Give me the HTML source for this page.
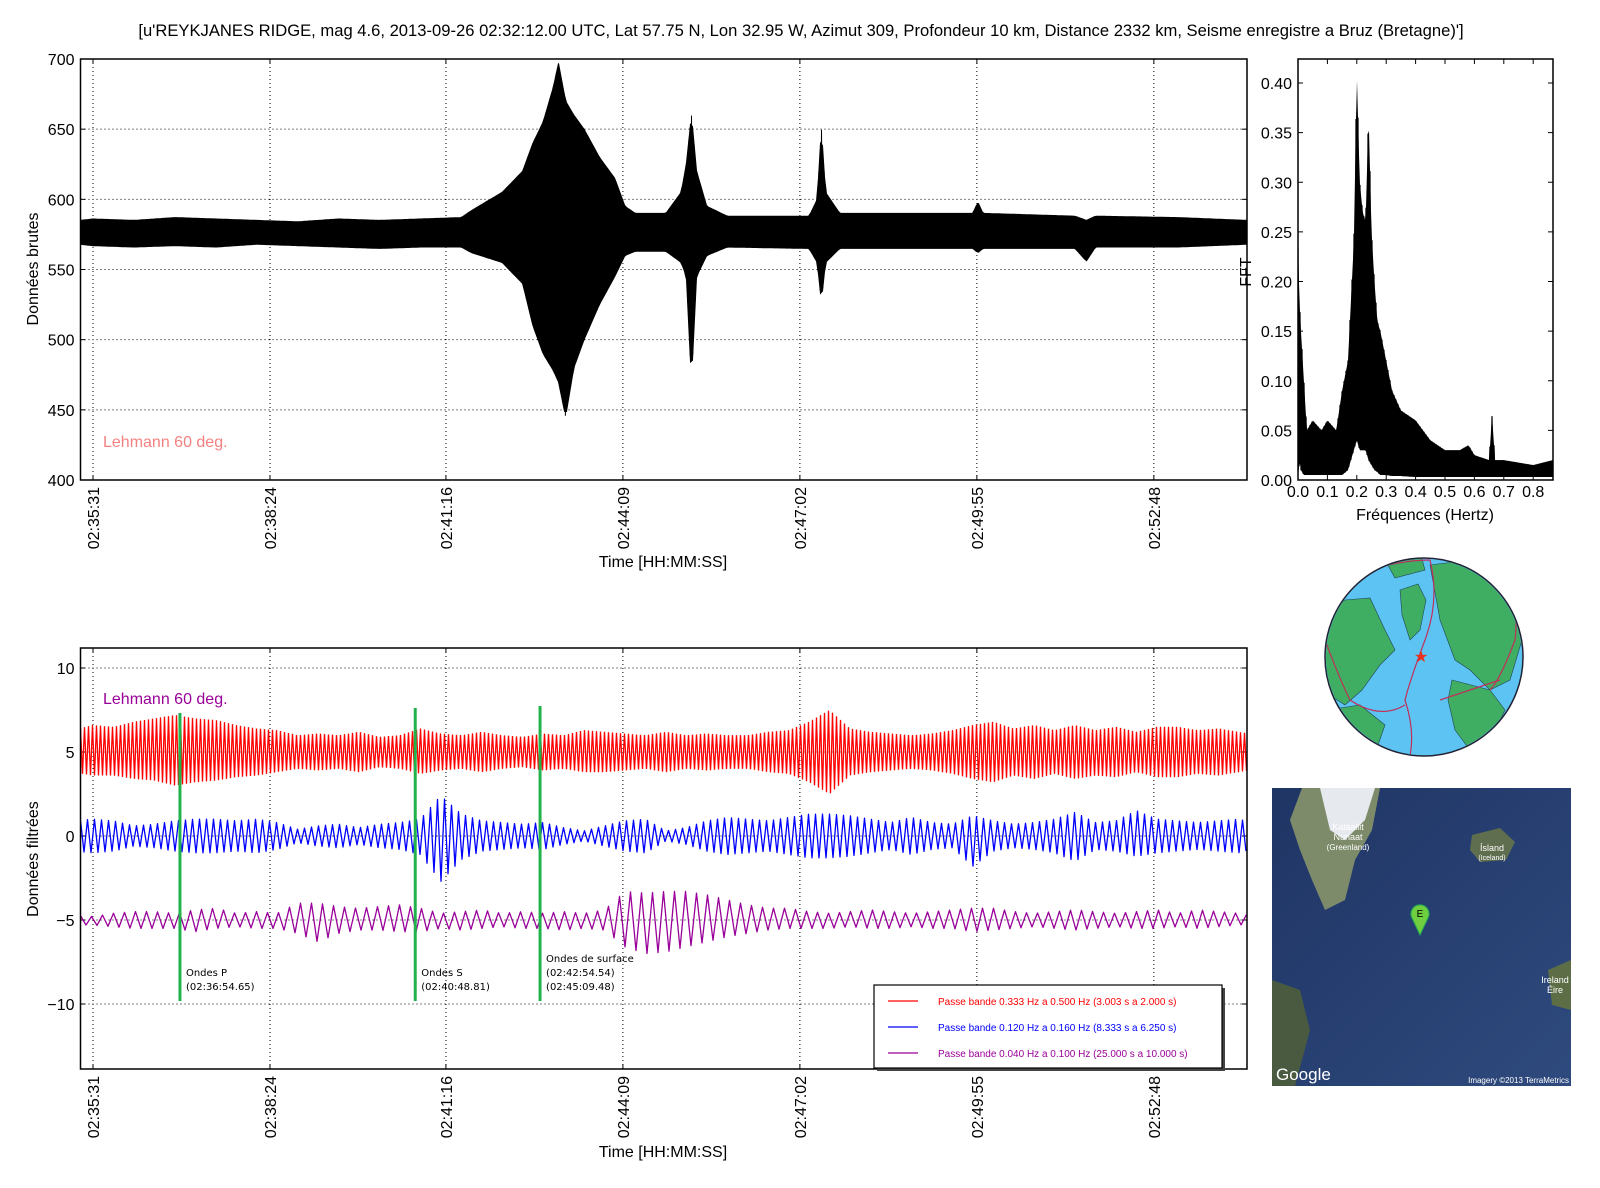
<!DOCTYPE html>
<html><head><meta charset="utf-8"><style>
html,body{margin:0;padding:0;background:#fff;}
svg{display:block;font-family:"Liberation Sans",sans-serif;}
</style></head><body>
<svg id="fig" width="1600" height="1188" viewBox="0 0 1600 1188" xmlns="http://www.w3.org/2000/svg">
<text x="801" y="36" font-size="16.6" text-anchor="middle">[u'REYKJANES RIDGE, mag 4.6, 2013-09-26 02:32:12.00 UTC, Lat 57.75 N, Lon 32.95 W, Azimut 309, Profondeur 10 km, Distance 2332 km, Seisme enregistre a Bruz (Bretagne)']</text>
<g id="top"></g>
<g id="fft"></g>
<g id="bot"></g>

<g>
<circle cx="1424" cy="657" r="99" fill="#5cc3f2" stroke="#223" stroke-width="1.5"/>
<clipPath id="gc"><circle cx="1424" cy="657" r="98"/></clipPath>
<g clip-path="url(#gc)" fill="#3fae63" stroke="#245" stroke-width="0.6">
<path d="M1318 620 L1345 600 L1370 598 L1385 630 L1395 650 L1380 665 L1362 690 L1345 705 L1322 690 L1318 660 Z"/>
<path d="M1400 590 L1418 584 L1426 600 L1420 630 L1410 640 L1402 615 Z"/>
<path d="M1430 565 L1470 560 L1510 590 L1522 640 L1510 680 L1490 690 L1470 670 L1455 660 L1440 620 Z"/>
<path d="M1452 680 L1490 690 L1505 710 L1490 740 L1470 750 L1455 730 L1448 700 Z"/>
<path d="M1340 708 L1360 705 L1385 725 L1378 745 L1355 760 L1335 745 Z"/>
<path d="M1385 560 L1420 552 L1425 570 L1395 578 Z"/>
</g>
<g clip-path="url(#gc)" fill="none" stroke="#c0305a" stroke-width="1.2">
<path d="M1330 590 Q1380 560 1430 560 Q1440 600 1425 640 Q1410 680 1405 700 Q1415 730 1410 756"/>
<path d="M1325 640 Q1340 680 1350 700 Q1380 720 1405 705"/>
<path d="M1440 560 Q1470 555 1500 565 Q1520 600 1515 640 Q1500 680 1490 690"/>
<path d="M1440 700 Q1470 690 1500 680"/>
</g>
<text x="1414" y="662" fill="#e8321e" font-size="16">★</text>
</g>

<g>
<defs><linearGradient id="sea" x1="0" y1="0" x2="1" y2="1"><stop offset="0" stop-color="#1f3564"/><stop offset="1" stop-color="#2f4a7e"/></linearGradient></defs>
<rect x="1272" y="788" width="299" height="298" fill="url(#sea)"/>
<path d="M1302 788 L1380 788 L1372 830 L1355 860 L1345 900 L1325 910 L1312 880 L1300 850 L1290 820 Z" fill="#7d8b6a"/>
<path d="M1320 788 L1375 788 L1365 820 L1345 840 L1330 830 Z" fill="#e6e9ee"/>
<path d="M1472 835 L1500 828 L1515 842 L1506 860 L1480 862 L1470 850 Z" fill="#5f6e4e"/>
<path d="M1272 980 L1300 990 L1310 1030 L1295 1086 L1272 1086 Z" fill="#4a5a40"/>
<path d="M1548 970 L1571 960 L1571 1010 L1552 1005 Z" fill="#5d6e47"/>
<text x="1348" y="830" font-size="9" fill="#fff" text-anchor="middle">Kalaallit</text>
<text x="1348" y="840" font-size="9" fill="#fff" text-anchor="middle">Nunaat</text>
<text x="1348" y="850" font-size="8" fill="#fff" text-anchor="middle">(Greenland)</text>
<text x="1492" y="851" font-size="9" fill="#fff" text-anchor="middle">Ísland</text>
<text x="1492" y="860" font-size="7" fill="#fff" text-anchor="middle">(Iceland)</text>
<text x="1555" y="983" font-size="9" fill="#fff" text-anchor="middle">Ireland</text>
<text x="1555" y="993" font-size="9" fill="#fff" text-anchor="middle">Éire</text>
<path d="M1420 935 L1412 918 A9 9 0 1 1 1428 918 Z" fill="#6fcf3f" stroke="#2a5" stroke-width="1"/>
<text x="1420" y="917" font-size="10" text-anchor="middle">E</text>
<text x="1276" y="1080" font-size="17" fill="#fff">Google</text>
<text x="1569" y="1083" font-size="8" fill="#fff" text-anchor="end">Imagery ©2013 TerraMetrics</text>
</g>
</svg>
<script>
// ---------- data ----------
var rawTimes = [-13,0,40,80,120,160,200,240,280,320,360,370,400,420,430,440,450,455,462,470,480,495,510,520,530,560,575,580,585,590,600,620,700,708,712,716,730,860,865,870,960,971,980,1060,1128];
var rawMax   = [585,586,585,587,586,585,584,586,585,586,587,592,605,620,640,655,680,697,670,660,650,630,615,595,590,590,605,625,660,620,595,588,588,600,651,605,590,590,598,590,588,585,588,587,585];
var rawMin   = [568,567,566,567,566,568,567,566,565,566,566,562,555,540,510,490,478,470,445,480,500,525,545,560,563,563,555,545,470,545,560,566,565,555,527,555,565,565,562,565,565,556,566,566,568];
var rawTickLabels = ['02:35:31','02:38:24','02:41:16','02:44:09','02:47:02','02:49:55','02:52:48'];
var rawTickTimes = [0,173,345,518,691,864,1037];
var rawYTicks = [400,450,500,550,600,650,700];

var fftFreqs = [0,0.005,0.01,0.02,0.03,0.05,0.08,0.1,0.13,0.15,0.17,0.18,0.19,0.2,0.21,0.22,0.23,0.24,0.25,0.26,0.27,0.28,0.3,0.32,0.35,0.4,0.45,0.5,0.55,0.58,0.6,0.65,0.66,0.67,0.7,0.8,0.867];
var fftMax   = [0.235,0.18,0.15,0.10,0.05,0.06,0.05,0.06,0.05,0.09,0.12,0.18,0.24,0.41,0.30,0.27,0.26,0.37,0.25,0.20,0.16,0.15,0.12,0.09,0.07,0.06,0.04,0.03,0.03,0.035,0.025,0.02,0.065,0.02,0.02,0.015,0.02];
var fftMin   = [0.0,0.02,0.01,0.005,0.005,0.005,0.005,0.005,0.005,0.005,0.01,0.02,0.03,0.04,0.03,0.03,0.03,0.02,0.015,0.01,0.008,0.005,0.005,0.004,0.004,0.003,0.003,0.003,0.003,0.003,0.003,0.003,0.003,0.003,0.003,0.003,0.003];
var fftXTicks = [0,0.1,0.2,0.3,0.4,0.5,0.6,0.7,0.8];
var fftYTicks = [0,0.05,0.1,0.15,0.2,0.25,0.3,0.35,0.4];

var filtTimes = [-20,0,20,40,60,80,100,120,140,160,180,200,220,240,260,280,300,320,340,360,380,400,420,440,460,480,500,520,540,560,580,600,620,640,660,680,700,720,740,760,780,800,820,840,860,880,900,920,940,960,980,1000,1020,1040,1060,1080,1100,1120,1140];
var redUpper = [6.3,6.6,6.5,6.8,7.0,7.2,7.0,6.9,6.6,6.4,6.3,6.0,6.1,6.0,6.2,5.9,6.0,6.4,6.1,6.0,6.2,6.0,5.9,6.1,6.0,6.3,6.2,6.1,6.0,6.2,6.0,6.1,6.0,6.0,6.2,6.3,6.8,7.5,6.4,6.2,6.1,6.0,6.1,6.3,6.6,6.8,6.4,6.6,6.3,6.6,6.3,6.5,6.2,6.5,6.5,6.3,6.4,6.2,6.0];
var redLower = [3.8,3.6,3.6,3.4,3.3,3.0,3.2,3.3,3.5,3.6,3.8,4.0,3.9,4.0,3.8,4.1,4.0,3.7,3.9,4.0,3.8,4.0,4.1,3.9,4.0,3.8,3.8,3.9,4.0,3.8,4.0,3.9,4.0,4.0,3.8,3.7,3.2,2.5,3.6,3.8,3.9,4.0,3.9,3.7,3.4,3.2,3.6,3.4,3.7,3.4,3.6,3.5,3.8,3.5,3.5,3.7,3.6,3.8,4.0];
var blueUpper = [0.9,1.0,0.9,0.6,0.7,0.9,1.0,1.0,0.9,1.0,0.8,0.4,0.6,0.7,0.5,0.7,0.8,1.0,2.4,1.3,0.9,0.8,0.7,0.8,0.5,0.3,0.6,0.9,1.0,0.3,0.5,0.9,1.1,1.0,0.9,1.1,1.3,1.3,1.2,1.0,0.8,1.1,0.8,0.7,1.2,0.9,0.7,0.8,1.0,1.4,0.8,0.9,1.5,1.0,0.9,0.8,0.9,1.0,0.7];
var blueLower = [-0.9,-1.0,-0.9,-0.6,-0.7,-0.9,-1.0,-1.0,-0.9,-1.0,-0.8,-0.4,-0.6,-0.7,-0.5,-0.7,-0.8,-1.1,-2.7,-1.4,-0.9,-0.8,-0.7,-0.8,-0.5,-0.3,-0.6,-0.9,-1.0,-0.3,-0.5,-0.9,-1.1,-1.0,-0.9,-1.1,-1.3,-1.3,-1.2,-1.0,-0.8,-1.1,-0.8,-0.7,-1.8,-0.9,-0.7,-0.8,-1.0,-1.5,-0.8,-0.9,-1.2,-1.0,-0.9,-0.8,-0.9,-1.0,-0.7];
var purpUpper = [-4.7,-4.8,-4.6,-4.5,-4.5,-4.6,-4.4,-4.3,-4.6,-4.5,-4.6,-4.0,-4.0,-4.2,-4.3,-4.2,-4.1,-4.3,-4.6,-4.5,-4.4,-4.6,-4.5,-4.6,-4.5,-4.6,-4.4,-3.3,-3.4,-3.3,-3.3,-3.5,-3.8,-4.1,-4.3,-4.3,-4.5,-4.6,-4.5,-4.4,-4.5,-4.6,-4.5,-4.4,-4.3,-4.3,-4.5,-4.6,-4.5,-4.4,-4.5,-4.6,-4.5,-4.4,-4.6,-4.4,-4.5,-4.6,-4.8];
var purpLower = [-5.3,-5.3,-5.4,-5.5,-5.5,-5.5,-5.7,-5.5,-5.4,-5.5,-5.5,-5.8,-6.3,-5.8,-5.6,-5.6,-5.7,-5.7,-5.5,-5.6,-5.5,-5.4,-5.5,-5.5,-5.6,-5.5,-5.6,-6.6,-7.0,-6.9,-6.6,-6.3,-6.0,-5.8,-5.6,-5.5,-5.5,-5.5,-5.4,-5.5,-5.5,-5.4,-5.5,-5.5,-5.7,-5.6,-5.5,-5.4,-5.5,-5.6,-5.5,-5.4,-5.5,-5.5,-5.4,-5.5,-5.4,-5.3,-5.2];
var filtYTicks = [-10,-5,0,5,10];
var waveTimes = [85,315,437];
var waveLabels = [['Ondes P','(02:36:54.65)'],['Ondes S','(02:40:48.81)'],['Ondes de surface','(02:42:54.54)','(02:45:09.48)']];
var legendLabels = ['Passe bande 0.333 Hz a 0.500 Hz (3.003 s a 2.000 s)','Passe bande 0.120 Hz a 0.160 Hz (8.333 s a 6.250 s)','Passe bande 0.040 Hz a 0.100 Hz (25.000 s a 10.000 s)'];

// ---------- helpers ----------
var NS='http://www.w3.org/2000/svg';
function mk(parent,tag,attrs,text){var e=document.createElementNS(NS,tag);for(var k in attrs)e.setAttribute(k,attrs[k]);if(text!==undefined)e.textContent=text;parent.appendChild(e);return e;}
function interp(xs,ys,x){if(x<=xs[0])return ys[0];for(var i=1;i<xs.length;i++){if(x<=xs[i]){var f=(x-xs[i-1])/(xs[i]-xs[i-1]);return ys[i-1]+f*(ys[i]-ys[i-1]);}}return ys[ys.length-1];}
function zig(xs,up,lo,px0,px1,step,invX,Y){var pts=[],tog=0;for(var p=px0;p<=px1;p+=step){var d=invX(p);var v=tog?interp(xs,lo,d):interp(xs,up,d);pts.push(p.toFixed(1)+','+Y(v).toFixed(1));tog=1-tog;}return pts.join(' ');}
function band(xs,up,lo,px0,px1,step,invX,Y){var a=[],b=[];for(var p=px0;p<=px1;p+=step){var d=invX(p);a.push(p.toFixed(1)+','+Y(interp(xs,up,d)).toFixed(1));b.unshift(p.toFixed(1)+','+Y(interp(xs,lo,d)).toFixed(1));}return a.concat(b).join(' ');}
function fmt(v){return v<0?'\u2212'+Math.abs(v):String(v);}

var L=80.5,R=1247;
function X(t){return 93+1.023*t;}
function invX(p){return (p-93)/1.023;}

// ---------- top raw chart ----------
(function(){
 var g=document.getElementById('top');var T=59,B=480;
 function Y(v){return B-(v-400)*(B-T)/300;}
 var cp=mk(g,'clipPath',{id:'ctop'});mk(cp,'rect',{x:L,y:T,width:R-L,height:B-T});
 rawYTicks.forEach(function(v){var y=Y(v);
  if(v>400&&v<700){var gl=mk(g,'line',{x1:L,x2:R,y1:y,y2:y,stroke:'#000','stroke-width':1,'stroke-dasharray':'1,3'});}
  mk(g,'line',{x1:L,x2:L+5,y1:y,y2:y,stroke:'#000'});mk(g,'line',{x1:R-5,x2:R,y1:y,y2:y,stroke:'#000'});
  var t=mk(g,'text',{x:L-6,y:y+6,'font-size':16,'text-anchor':'end'},String(v));});
 rawTickTimes.forEach(function(tt,i){var x=X(tt);
  var gl=mk(g,'line',{x1:x,x2:x,y1:T,y2:B,stroke:'#000','stroke-dasharray':'1,3'});
  mk(g,'line',{x1:x,x2:x,y1:B-5,y2:B,stroke:'#000'});mk(g,'line',{x1:x,x2:x,y1:T,y2:T+5,stroke:'#000'});
  var t=mk(g,'text',{x:0,y:0,'font-size':16,'text-anchor':'end',transform:'translate('+(x+6)+','+(B+7)+') rotate(-90)'},rawTickLabels[i]);});
 var bd=mk(g,'polygon',{points:band(rawTimes,rawMax,rawMin,L,R,2,invX,Y),fill:'#000',stroke:'#000','stroke-width':1,'clip-path':'url(#ctop)'});
 
 var pl=mk(g,'polyline',{points:zig(rawTimes,rawMax,rawMin,L,R,1.3,invX,Y),fill:'none',stroke:'#000','stroke-width':1,'clip-path':'url(#ctop)'});
 
 var fr=mk(g,'rect',{x:L,y:T,width:R-L,height:B-T,fill:'none',stroke:'#000','stroke-width':1.5});
 var a=mk(g,'text',{x:103,y:447,'font-size':16,fill:'#f48080'},'Lehmann 60 deg.');
 var yl=mk(g,'text',{x:0,y:0,'font-size':16,'text-anchor':'middle',transform:'translate(38,269) rotate(-90)'},'Données brutes');
 var xl=mk(g,'text',{x:663,y:567,'font-size':16,'text-anchor':'middle'},'Time [HH:MM:SS]');
})();

// ---------- FFT chart ----------
(function(){
 var g=document.getElementById('fft');var FL=1298,FR=1553,T=59,B=480;
 function Xf(f){return FL+f*294;}function invXf(p){return (p-FL)/294;}
 function Y(v){return B-v*992.5;}
 var cp=mk(g,'clipPath',{id:'cfft'});mk(cp,'rect',{x:FL,y:T,width:FR-FL,height:B-T});
 var bd=mk(g,'polygon',{points:band(fftFreqs,fftMax,fftMin,FL,FR,1,invXf,Y),fill:'#000','clip-path':'url(#cfft)'});
 
 var pl=mk(g,'polyline',{points:zig(fftFreqs,fftMax,fftMin,FL,FR,1,invXf,Y),fill:'none',stroke:'#000','stroke-width':1.2,'clip-path':'url(#cfft)'});
 
 fftYTicks.forEach(function(v){var y=Y(v);mk(g,'line',{x1:FL,x2:FL+5,y1:y,y2:y,stroke:'#000'});mk(g,'line',{x1:FR-5,x2:FR,y1:y,y2:y,stroke:'#000'});
  var t=mk(g,'text',{x:FL-6,y:y+6,'font-size':16,'text-anchor':'end'},v.toFixed(2));});
 fftXTicks.forEach(function(f){var x=Xf(f);mk(g,'line',{x1:x,x2:x,y1:B-5,y2:B,stroke:'#000'});mk(g,'line',{x1:x,x2:x,y1:T,y2:T+5,stroke:'#000'});
  var t=mk(g,'text',{x:x,y:B+17,'font-size':16,'text-anchor':'middle'},f.toFixed(1));});
 var fr=mk(g,'rect',{x:FL,y:T,width:FR-FL,height:B-T,fill:'none',stroke:'#000','stroke-width':1.5});
 var yl=mk(g,'text',{x:0,y:0,'font-size':16,'text-anchor':'middle',transform:'translate(1251,272) rotate(-90)'},'FFT');
 var xl=mk(g,'text',{x:1425,y:520,'font-size':16,'text-anchor':'middle'},'Fréquences (Hertz)');
})();

// ---------- bottom filtered chart ----------
(function(){
 var g=document.getElementById('bot');var T=648,B=1069;
 function Y(v){return 1004-(v+10)*16.8;}
 var cp=mk(g,'clipPath',{id:'cbot'});mk(cp,'rect',{x:L,y:T,width:R-L,height:B-T});
 filtYTicks.forEach(function(v){var y=Y(v);
  var gl=mk(g,'line',{x1:L,x2:R,y1:y,y2:y,stroke:'#000','stroke-dasharray':'1,3'});
  mk(g,'line',{x1:L,x2:L+5,y1:y,y2:y,stroke:'#000'});mk(g,'line',{x1:R-5,x2:R,y1:y,y2:y,stroke:'#000'});
  var t=mk(g,'text',{x:L-6,y:y+6,'font-size':16,'text-anchor':'end'},fmt(v));});
 rawTickTimes.forEach(function(tt,i){var x=X(tt);
  var gl=mk(g,'line',{x1:x,x2:x,y1:T,y2:B,stroke:'#000','stroke-dasharray':'1,3'});
  mk(g,'line',{x1:x,x2:x,y1:B-5,y2:B,stroke:'#000'});mk(g,'line',{x1:x,x2:x,y1:T,y2:T+5,stroke:'#000'});
  var t=mk(g,'text',{x:0,y:0,'font-size':16,'text-anchor':'end',transform:'translate('+(x+6)+','+(B+7)+') rotate(-90)'},rawTickLabels[i]);});
 var r=mk(g,'polyline',{points:zig(filtTimes,redUpper,redLower,L,R,2,invX,Y),fill:'none',stroke:'#ff0000','stroke-width':1.3,'clip-path':'url(#cbot)'});
 
 var b=mk(g,'polyline',{points:zig(filtTimes,blueUpper,blueLower,L,R,3.5,invX,Y),fill:'none',stroke:'#0000ff','stroke-width':1.3,'clip-path':'url(#cbot)','stroke-linejoin':'round'});
 
 var p=mk(g,'polyline',{points:zig(filtTimes,purpUpper,purpLower,L,R,5.5,invX,Y),fill:'none',stroke:'#990099','stroke-width':1.3,'clip-path':'url(#cbot)','stroke-linejoin':'round'});
 
 var tops=[713,708,706];
 waveTimes.forEach(function(tt,i){var x=X(tt);
  var ln=mk(g,'line',{x1:x,x2:x,y1:tops[i],y2:1001,stroke:'#22b24c','stroke-width':3});
  var n=waveLabels[i].length;var y0=1000-(n-1)*14;
  waveLabels[i].forEach(function(s,j){var t=mk(g,'text',{x:x+6,y:y0-14+j*14+4,'font-size':10,'font-family':'DejaVu Sans, sans-serif'},s);});});
 var fr=mk(g,'rect',{x:L,y:T,width:R-L,height:B-T,fill:'none',stroke:'#000','stroke-width':1.5});
 var a=mk(g,'text',{x:103,y:704,'font-size':16,fill:'#990099'},'Lehmann 60 deg.');
 var lg=mk(g,'g',{});
 mk(lg,'rect',{x:877,y:988,width:348,height:83,fill:'#444'});
 mk(lg,'rect',{x:874,y:985,width:348,height:83,fill:'#fff',stroke:'#000','stroke-width':1.2});
 var cols=['#ff0000','#0000ff','#990099'];
 legendLabels.forEach(function(s,i){var y=1001+i*26;
  mk(lg,'line',{x1:888,x2:918,y1:y,y2:y,stroke:cols[i],'stroke-width':1.3});
  var t=mk(lg,'text',{x:938,y:y+4,'font-size':10,fill:cols[i]},s);});
 var yl=mk(g,'text',{x:0,y:0,'font-size':16,'text-anchor':'middle',transform:'translate(38,859) rotate(-90)'},'Données filtrées');
 var xl=mk(g,'text',{x:663,y:1157,'font-size':16,'text-anchor':'middle'},'Time [HH:MM:SS]');
})();
</script>
</body></html>
